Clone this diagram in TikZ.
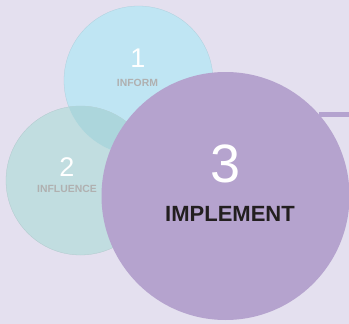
\documentclass[tikz,border=0pt]{standalone}
\usepackage{fontspec}
\setmainfont{Liberation Sans}
\definecolor{bgc}{HTML}{E4E0EF}
\definecolor{cone}{HTML}{BFE5F3}
\definecolor{ctwo}{HTML}{C1DDE0}
\definecolor{cover}{HTML}{ACD6DC}
\definecolor{cthree}{HTML}{B5A3CE}
\definecolor{cline}{HTML}{B4A3CF}
\definecolor{lblgray}{HTML}{B0B0B0}
\definecolor{darktxt}{HTML}{231F20}
\tikzset{
  bubble/.style={circle, inner sep=0pt, outer sep=0pt},
  numtxt/.style={anchor=base, inner sep=0pt, text=white},
  smalllbl/.style={anchor=base, inner sep=0pt, text=lblgray, font=\fontsize{10.4}{12}\selectfont\bfseries},
}
\begin{document}
\begin{tikzpicture}[x=1pt,y=-1pt]
\path[use as bounding box, fill=bgc] (0,0) rectangle (349,324);
% circle 1
\node[bubble, minimum size=149pt, fill=cone, draw=cone!85!black!60!cone, line width=0.3pt] (c1) at (138.5,80.5) {};
% circle 2
\node[bubble, minimum size=149pt, fill=ctwo, draw=ctwo!85!black!60!ctwo, line width=0.3pt] (c2) at (80.5,180.5) {};
% overlap of 1 and 2
\begin{scope}
  \clip (c2.center) circle[radius=74.5pt];
  \fill[cover] (c1.center) circle[radius=74.5pt];
\end{scope}
% texts in 1 and 2
\node[numtxt, font=\fontsize{27}{30}\selectfont] (n1) at (138,67) {1};
\node[smalllbl] (l1) at (137.5,86) {INFORM};
\node[numtxt, font=\fontsize{27}{30}\selectfont] (n2) at (67,176) {2};
\node[smalllbl] (l2) at (67,193) {INFLUENCE};
% line and circle 3
\coordinate (lend) at (349,113.8);
\node[bubble, minimum size=248pt, fill=cthree] (c3) at (225.5,196) {};
\draw[cline, line width=4.8pt] (c3.41.4) -- (c3.41.4 -| lend);
\node[numtxt, font=\fontsize{54}{60}\selectfont] (n3) at (226,182.5) {3};
\node[anchor=base, inner sep=0pt, text=darktxt, font=\fontsize{22}{26}\selectfont\bfseries] (l3) at (230,221) {IMPLEMENT};
\end{tikzpicture}
\end{document}
